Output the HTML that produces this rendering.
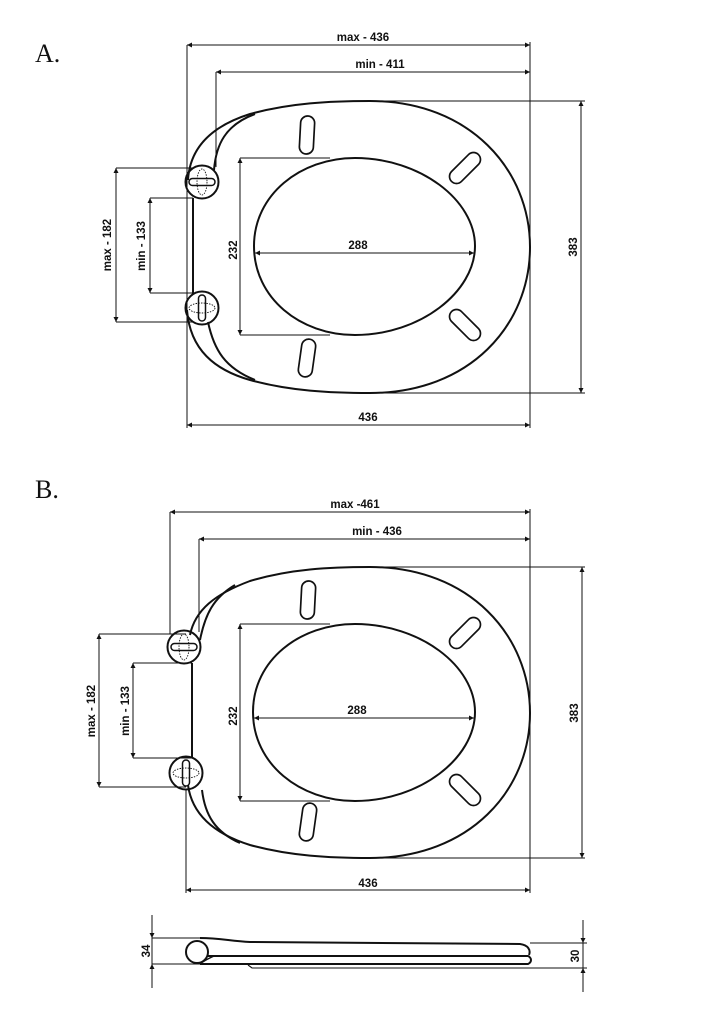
<!DOCTYPE html>
<html><head><meta charset="utf-8"><style>
html,body{margin:0;padding:0;background:#fff}
svg{display:block}
text{font-family:"Liberation Sans",sans-serif;font-weight:bold;font-size:11.5px;fill:#111}
.s{fill:none;stroke:#111;stroke-width:2}
.d{fill:none;stroke:#111;stroke-width:1}
.t{fill:none;stroke:#111;stroke-width:1.1}
.dot{fill:none;stroke:#111;stroke-width:0.9;stroke-dasharray:1.5 1.2}
.big{font-family:"Liberation Serif",serif;font-weight:normal;font-size:26px}
</style></head><body>
<svg width="724" height="1024" viewBox="0 0 724 1024" xmlns="http://www.w3.org/2000/svg">
<defs>
<marker id="a" viewBox="0 0 10 10" refX="10" refY="5" markerWidth="7" markerHeight="5" orient="auto-start-reverse" markerUnits="userSpaceOnUse"><path d="M0,0 L10,5 L0,10 z" fill="#111"/></marker>
<g id="hingeH">
<circle cx="0" cy="0" r="16.5" class="s"/>
<ellipse cx="0" cy="0" rx="5" ry="13" class="dot"/>
<rect x="-13" y="-3.5" width="26" height="7" rx="3.5" class="s" style="stroke-width:1.5"/>
</g>
<g id="hingeV">
<circle cx="0" cy="0" r="16.5" class="s"/>
<ellipse cx="0" cy="0" rx="13" ry="5" class="dot"/>
<rect x="-3.5" y="-13" width="7" height="26" rx="3.5" class="s" style="stroke-width:1.5"/>
</g>
<rect id="slot" x="-7" y="-19" width="14" height="38" rx="7" class="s" style="stroke-width:1.7"/>
</defs>

<text x="35" y="62" class="big">A.</text>
<text x="35" y="498" class="big">B.</text>

<!-- Diagram A -->
<g>
<line x1="187" y1="45" x2="530" y2="45" class="d" marker-start="url(#a)" marker-end="url(#a)"/>
<text x="363" y="41" text-anchor="middle">max - 436</text>
<line x1="216" y1="72" x2="530" y2="72" class="d" marker-start="url(#a)" marker-end="url(#a)"/>
<text x="380" y="68" text-anchor="middle">min - 411</text>
<line x1="187" y1="45" x2="187" y2="428" class="d"/>
<line x1="216" y1="72" x2="216" y2="167" class="d"/>
<line x1="530" y1="42" x2="530" y2="428" class="d"/>
<line x1="360" y1="101" x2="585" y2="101" class="d"/>
<line x1="360" y1="393" x2="585" y2="393" class="d"/>
<line x1="581" y1="101" x2="581" y2="393" class="d" marker-start="url(#a)" marker-end="url(#a)"/>
<text transform="translate(577,247) rotate(-90)" text-anchor="middle">383</text>
<line x1="187" y1="425" x2="530" y2="425" class="d" marker-start="url(#a)" marker-end="url(#a)"/>
<text x="368" y="421" text-anchor="middle">436</text>
<path class="s" d="M188,180 C190,145 215,125 250,114 C290,103 330,101 370,101 C470,101 530,170 530,247 C530,325 470,393 370,393 C330,393 290,391 250,380 C215,370 190,350 187,310"/>
<path class="s" d="M214,170 C216,145 225,125 255,114"/>
<path class="s" d="M208,322 C214,350 225,368 255,380"/>
<line x1="193" y1="198" x2="193" y2="293" class="s"/>
<line x1="116" y1="168" x2="193" y2="168" class="d"/>
<line x1="116" y1="322" x2="193" y2="322" class="d"/>
<line x1="116" y1="168" x2="116" y2="322" class="d" marker-start="url(#a)" marker-end="url(#a)"/>
<text transform="translate(111,245) rotate(-90)" text-anchor="middle">max - 182</text>
<line x1="150" y1="198" x2="193" y2="198" class="d"/>
<line x1="150" y1="293" x2="193" y2="293" class="d"/>
<line x1="150" y1="198" x2="150" y2="293" class="d" marker-start="url(#a)" marker-end="url(#a)"/>
<text transform="translate(145,246) rotate(-90)" text-anchor="middle">min - 133</text>
<use href="#hingeH" x="202" y="182"/>
<use href="#hingeV" x="202" y="308"/>
<path class="s" d="M254,246 C254,195 300,158 355,158 C420,158 475,200 475,246 C475,292 420,335 355,335 C300,335 254,298 254,246 Z"/>
<line x1="240" y1="158" x2="330" y2="158" class="d"/>
<line x1="240" y1="335" x2="330" y2="335" class="d"/>
<line x1="240" y1="158" x2="240" y2="335" class="d" marker-start="url(#a)" marker-end="url(#a)"/>
<text transform="translate(237,250) rotate(-90)" text-anchor="middle">232</text>
<line x1="255" y1="253" x2="474" y2="253" class="d" marker-start="url(#a)" marker-end="url(#a)"/>
<text x="358" y="249" text-anchor="middle">288</text>
<use href="#slot" transform="translate(307,135) rotate(3)"/>
<use href="#slot" transform="translate(465,168) rotate(45)"/>
<use href="#slot" transform="translate(465,325) rotate(-45)"/>
<use href="#slot" transform="translate(307,358) rotate(8)"/>
</g>

<!-- Diagram B -->
<g>
<line x1="170" y1="512" x2="530" y2="512" class="d" marker-start="url(#a)" marker-end="url(#a)"/>
<text x="355" y="508" text-anchor="middle">max -461</text>
<line x1="199" y1="539" x2="530" y2="539" class="d" marker-start="url(#a)" marker-end="url(#a)"/>
<text x="377" y="535" text-anchor="middle">min - 436</text>
<line x1="170" y1="512" x2="170" y2="634" class="d"/>
<line x1="199" y1="539" x2="199" y2="632" class="d"/>
<line x1="530" y1="509" x2="530" y2="893" class="d"/>
<line x1="186" y1="790" x2="186" y2="893" class="d"/>
<line x1="360" y1="567" x2="585" y2="567" class="d"/>
<line x1="360" y1="858" x2="585" y2="858" class="d"/>
<line x1="582" y1="567" x2="582" y2="858" class="d" marker-start="url(#a)" marker-end="url(#a)"/>
<text transform="translate(578,713) rotate(-90)" text-anchor="middle">383</text>
<line x1="186" y1="890" x2="530" y2="890" class="d" marker-start="url(#a)" marker-end="url(#a)"/>
<text x="368" y="887" text-anchor="middle">436</text>
<path class="s" d="M190,635 C195,610 215,594 250,581 C290,569 330,567 370,567 C470,567 530,636 530,713 C530,790 470,858 370,858 C330,858 290,856 250,845 C215,834 192,815 188,785"/>
<path class="s" d="M200,640 C205,615 213,598 235,585"/>
<path class="s" d="M202,790 C205,815 215,832 240,843"/>
<line x1="192" y1="663" x2="192" y2="757" class="s"/>
<line x1="99" y1="634" x2="186" y2="634" class="d"/>
<line x1="99" y1="787" x2="186" y2="787" class="d"/>
<line x1="99" y1="634" x2="99" y2="787" class="d" marker-start="url(#a)" marker-end="url(#a)"/>
<text transform="translate(95,711) rotate(-90)" text-anchor="middle">max - 182</text>
<line x1="133" y1="663" x2="192" y2="663" class="d"/>
<line x1="133" y1="758" x2="192" y2="758" class="d"/>
<line x1="133" y1="663" x2="133" y2="758" class="d" marker-start="url(#a)" marker-end="url(#a)"/>
<text transform="translate(129,711) rotate(-90)" text-anchor="middle">min - 133</text>
<use href="#hingeH" x="184" y="647"/>
<use href="#hingeV" x="186" y="773"/>
<path class="s" d="M253,712 C253,660 300,624 355,624 C420,624 475,666 475,712 C475,758 420,801 355,801 C300,801 253,764 253,712 Z"/>
<line x1="240" y1="624" x2="330" y2="624" class="d"/>
<line x1="240" y1="801" x2="330" y2="801" class="d"/>
<line x1="240" y1="624" x2="240" y2="801" class="d" marker-start="url(#a)" marker-end="url(#a)"/>
<text transform="translate(237,716) rotate(-90)" text-anchor="middle">232</text>
<line x1="254" y1="718" x2="474" y2="718" class="d" marker-start="url(#a)" marker-end="url(#a)"/>
<text x="357" y="714" text-anchor="middle">288</text>
<use href="#slot" transform="translate(308,600) rotate(3)"/>
<use href="#slot" transform="translate(465,633) rotate(45)"/>
<use href="#slot" transform="translate(465,790) rotate(-45)"/>
<use href="#slot" transform="translate(308,822) rotate(8)"/>
</g>

<!-- Side view -->
<g>
<line x1="152" y1="938" x2="200" y2="938" class="d"/>
<line x1="152" y1="964" x2="200" y2="964" class="d"/>
<line x1="152" y1="915" x2="152" y2="938" class="d" marker-end="url(#a)"/>
<line x1="152" y1="988" x2="152" y2="964" class="d" marker-end="url(#a)"/>
<line x1="152" y1="938" x2="152" y2="964" class="d"/>
<text transform="translate(150,951) rotate(-90)" text-anchor="middle">34</text>
<circle cx="197" cy="952" r="11" class="s"/>
<path class="s" d="M200,938 C220,938 230,941 250,942 L520,944 C528,945 531,950 529,955"/>
<path class="s" d="M207,956 L528,956 C532,958 532,962 528,964 L200,964"/>
<path class="s" d="M200,964 C205,960 210,958 214,956" style="stroke-width:1.4"/>
<path class="t" d="M248,965 L252,968 L530,968"/>
<line x1="530" y1="943" x2="587" y2="943" class="d"/>
<line x1="530" y1="968" x2="587" y2="968" class="d"/>
<line x1="583" y1="920" x2="583" y2="943" class="d" marker-end="url(#a)"/>
<line x1="583" y1="992" x2="583" y2="968" class="d" marker-end="url(#a)"/>
<line x1="583" y1="943" x2="583" y2="968" class="d"/>
<text transform="translate(579,956) rotate(-90)" text-anchor="middle">30</text>
</g>
</svg>
</body></html>
